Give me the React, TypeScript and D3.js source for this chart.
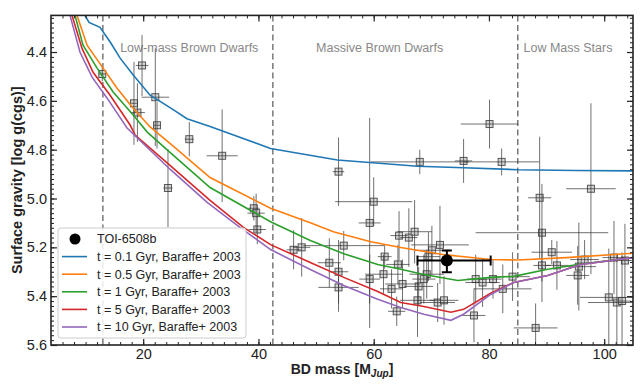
import * as React from "react";
import * as d3 from "d3";

// Baraffe+ 2003 isochrones, [mass (M_Jup), log g]
const iso01 = [[9.6, 4.22], [9.9, 4.25], [10.6, 4.279], [12.5, 4.299], [14.3, 4.36], [16.0, 4.425], [18.3, 4.495], [21.2, 4.577], [25.0, 4.633], [27.6, 4.673], [31.6, 4.705], [42.1, 4.795], [53.7, 4.842], [67.6, 4.868], [75.6, 4.874], [85.0, 4.882], [95.0, 4.885], [105, 4.887]];
const iso05 = [[8.3, 4.23], [8.52, 4.25], [10.26, 4.372], [13.04, 4.466], [15.47, 4.548], [18.26, 4.63], [21.2, 4.707], [24.7, 4.775], [31.6, 4.914], [42.1, 5.04], [49.0, 5.099], [53.0, 5.136], [59.5, 5.177], [64.7, 5.201], [72.2, 5.23], [80.3, 5.25], [85.0, 5.252], [93.5, 5.242], [105, 5.224]];
const iso1 = [[8.0, 4.23], [8.17, 4.25], [9.56, 4.372], [12.0, 4.466], [14.78, 4.564], [18.26, 4.658], [20.7, 4.728], [24.7, 4.812], [31.6, 4.955], [42.1, 5.095], [49.0, 5.172], [54.8, 5.226], [60.7, 5.27], [64.7, 5.29], [68.7, 5.311], [74.6, 5.336], [80.3, 5.323], [84.3, 5.319], [90.2, 5.29], [95.4, 5.27], [105, 5.242]];
const iso5 = [[7.4, 4.23], [7.65, 4.25], [9.39, 4.385], [11.3, 4.483], [14.26, 4.577], [17.73, 4.699], [18.6, 4.74], [24.7, 4.865], [31.6, 5.008], [37.4, 5.118], [42.1, 5.189], [49.0, 5.262], [54.8, 5.323], [60.7, 5.381], [64.7, 5.426], [68.7, 5.442], [73.4, 5.466], [75.6, 5.454], [80.3, 5.388], [84.3, 5.344], [90.2, 5.315], [95.9, 5.27], [105, 5.242]];
const iso10 = [[7.1, 4.23], [7.3, 4.25], [9.04, 4.401], [11.13, 4.503], [13.74, 4.589], [17.2, 4.711], [24.7, 4.881], [31.1, 5.016], [36.9, 5.12], [42.1, 5.209], [49.0, 5.291], [54.8, 5.356], [60.7, 5.413], [64.7, 5.446], [68.7, 5.474], [73.4, 5.499], [75.6, 5.474], [80.3, 5.393], [84.3, 5.344], [90.2, 5.315], [95.9, 5.27], [105, 5.242]];

const isoNames = ["t = 0.1 Gyr, Baraffe+ 2003", "t = 0.5 Gyr, Baraffe+ 2003", "t = 1 Gyr, Baraffe+ 2003", "t = 5 Gyr, Baraffe+ 2003", "t = 10 Gyr, Baraffe+ 2003"];
const isoColors = ["#1f77b4", "#ff7f0e", "#2ca02c", "#d62728", "#9467bd"];

// known brown dwarfs: mass, log g and their errors
const bdMass = [12.9, 19.8, 22.1, 18.4, 19.0, 22.4, 28.0, 24.3, 33.7, 53.9, 39.2, 39.6, 39.8, 46.1, 47.5, 52.3, 53.9, 53.9, 54.8, 60.0, 59.3, 59.3, 61.9, 61.7, 63.1, 64.0, 64.4, 64.2, 66.1, 67.1, 71.5, 70.1, 69.5, 69.2, 68.7, 67.8, 65.0, 67.6, 71.1, 72.2, 77.4, 77.7, 78.9, 80.7, 84.1, 82.4, 88.1, 88.8, 89.2, 90.9, 89.2, 91.8, 95.4, 95.6, 96.6, 97.7, 100.8, 102.2, 103.1, 103.6, 101.7, 75.6, 80.1, 82.2, 68.0];
const bdLogg = [4.49, 4.455, 4.585, 4.61, 4.648, 4.70, 4.757, 4.957, 4.825, 4.89, 5.04, 5.06, 5.127, 5.21, 5.20, 5.263, 5.30, 5.364, 5.193, 5.013, 5.10, 5.33, 5.238, 5.31, 5.37, 5.462, 5.152, 5.27, 5.16, 5.136, 5.19, 5.212, 5.238, 5.31, 5.33, 5.36, 5.35, 5.417, 5.426, 5.417, 5.479, 5.33, 5.344, 5.33, 5.32, 5.37, 5.53, 4.997, 5.14, 5.22, 5.274, 5.274, 5.315, 5.279, 5.25, 4.96, 5.405, 5.426, 5.42, 5.254, 5.242, 4.846, 4.695, 4.85, 4.85];
const bdMassErr = [0.6, 1.1, 2.4, 0.5, 1.3, 0.6, 0.8, 0.8, 2.7, 1.0, 1.0, 1.5, 1.5, 1.2, 1.5, 2.0, 1.7, 3.5, 7.0, 6.7, 1.9, 1.8, 1.2, 3.2, 2.0, 1.5, 1.5, 2.0, 1.5, 3.0, 5.0, 3.0, 2.0, 3.0, 2.0, 2.5, 3.0, 3.0, 3.0, 2.5, 2.0, 1.5, 3.0, 1.5, 3.0, 5.0, 3.8, 2.0, 11.5, 3.5, 1.5, 2.0, 2.0, 3.0, 2.5, 4.3, 5.0, 5.0, 1.5, 1.5, 2.0, 1.5, 5.0, 6.5, 8.5];
const bdLoggErr = [0.03, 0.125, 0.2, 0.17, 0.12, 0.095, 0.07, 0.16, 0.19, 0.14, 0.05, 0.08, 0.06, 0.08, 0.12, 0.1, 0.13, 0.1, 0.06, 0.1, 0.43, 0.1, 0.05, 0.08, 0.08, 0.06, 0.1, 0.08, 0.12, 0.13, 0.16, 0.1, 0.1, 0.1, 0.1, 0.08, 0.1, 0.15, 0.08, 0.1, 0.11, 0.1, 0.1, 0.08, 0.1, 0.1, 0.1, 0.25, 0.2, 0.05, 0.15, 0.1, 0.12, 0.18, 0.08, 0.35, 0.2, 0.2, 0.2, 0.15, 0.15, 0.09, 0.1, 0.055, 0.05];

// TOI-6508b
const toiMass = 72.7, toiMassLo = 5.1, toiMassHi = 7.6;
const toiLogg = 5.254, toiLoggLo = 0.041, toiLoggHi = 0.048;

const regionBounds = [13, 42.5, 85];
const regionLabels = ["Low-mass Brown Dwarfs", "Massive Brown Dwarfs", "Low Mass Stars"];
const regionLabelX = [16, 50, 86];

const xTicks = [20, 40, 60, 80, 100];
const yTicks = [4.4, 4.6, 4.8, 5.0, 5.2, 5.4, 5.6];

class App extends React.Component {
    _rootNode: any;

    componentDidMount() {
        document.body.style.margin = "0";
        this.drawChart();
    }

    drawChart() {
        const m = {left: 51, right: 633, top: 15.4, bottom: 345};
        const font = "'Liberation Sans', Arial, Helvetica, sans-serif";

        let x = d3.scaleLinear().domain([4, 105]).range([m.left, m.right]);
        let y = d3.scaleLinear().domain([4.25, 5.6]).range([m.top, m.bottom]);

        let svg = d3.select(this._rootNode)
            .append("svg")
            .attr("width", 640)
            .attr("height", 384)
            .style("display", "block")
            .style("font-family", font);

        svg.append("defs").append("clipPath").attr("id", "plotclip")
            .append("rect")
            .attr("x", m.left).attr("y", m.top)
            .attr("width", m.right - m.left).attr("height", m.bottom - m.top);

        let plot = svg.append("g").attr("clip-path", "url(#plotclip)");

        // region separators
        plot.selectAll("line.region")
            .data(regionBounds)
            .enter()
            .append("line")
            .attr("x1", d => x(d)).attr("x2", d => x(d))
            .attr("y1", m.top).attr("y2", m.bottom)
            .style("stroke", "#777")
            .style("stroke-width", 1.5)
            .style("stroke-dasharray", "6,3.5");

        plot.selectAll("text.region")
            .data(regionLabels)
            .enter()
            .append("text")
            .attr("x", (d, i) => x(regionLabelX[i]))
            .attr("y", 52)
            .style("font-size", "12.5px")
            .style("fill", "#888")
            .text(d => d);

        // data points
        let pts = bdMass.map((d, i) => ({m: d, g: bdLogg[i], me: bdMassErr[i], ge: bdLoggErr[i]}));
        let sq = 7;
        plot.selectAll("rect.bd")
            .data(pts)
            .enter()
            .append("rect")
            .attr("x", d => x(d.m) - sq / 2)
            .attr("y", d => y(d.g) - sq / 2)
            .attr("width", sq).attr("height", sq)
            .style("fill", "#c8c8c8")
            .style("fill-opacity", 0.75)
            .style("stroke", "#333")
            .style("stroke-opacity", 0.8)
            .style("stroke-width", 1);

        let bars = plot.append("g").style("stroke", "#333").style("stroke-width", 1).style("stroke-opacity", 0.7);
        bars.selectAll("line.xe")
            .data(pts)
            .enter()
            .append("line")
            .attr("x1", d => x(d.m - d.me)).attr("x2", d => x(d.m + d.me))
            .attr("y1", d => y(d.g)).attr("y2", d => y(d.g));
        bars.selectAll("line.ye")
            .data(pts)
            .enter()
            .append("line")
            .attr("x1", d => x(d.m)).attr("x2", d => x(d.m))
            .attr("y1", d => y(d.g - d.ge)).attr("y2", d => y(d.g + d.ge));

        // isochrones
        let line = d3.line<number[]>().x(d => x(d[0])).y(d => y(d[1]));
        plot.selectAll("path.iso")
            .data([iso01, iso05, iso1, iso5, iso10])
            .enter()
            .append("path")
            .attr("d", d => line(d))
            .style("fill", "none")
            .style("stroke", (d, i) => isoColors[i])
            .style("stroke-width", 1.6);

        // TOI-6508b
        let toi = plot.append("g").style("stroke", "#000").style("stroke-width", 2);
        toi.append("line")
            .attr("x1", x(toiMass - toiMassLo)).attr("x2", x(toiMass + toiMassHi))
            .attr("y1", y(toiLogg)).attr("y2", y(toiLogg));
        toi.append("line")
            .attr("x1", x(toiMass)).attr("x2", x(toiMass))
            .attr("y1", y(toiLogg - toiLoggLo)).attr("y2", y(toiLogg + toiLoggHi));
        [toiMass - toiMassLo, toiMass + toiMassHi].forEach(v => {
            toi.append("line").attr("x1", x(v)).attr("x2", x(v))
                .attr("y1", y(toiLogg) - 5).attr("y2", y(toiLogg) + 5);
        });
        [toiLogg - toiLoggLo, toiLogg + toiLoggHi].forEach(v => {
            toi.append("line").attr("x1", x(toiMass) - 5).attr("x2", x(toiMass) + 5)
                .attr("y1", y(v)).attr("y2", y(v));
        });
        plot.append("circle")
            .attr("cx", x(toiMass)).attr("cy", y(toiLogg))
            .attr("r", 6)
            .style("fill", "#000");

        // axes with inward ticks on all four sides
        const minorX = d3.range(6, 105, 2);
        const minorY = d3.range(4.26, 5.6, 0.02);
        const makeAxis = (k: number) => k === 0 ? d3.axisBottom(x) : k === 1 ? d3.axisTop(x) : k === 2 ? d3.axisLeft(y) : d3.axisRight(y);
        const shifts = ["translate(0," + m.bottom + ")", "translate(0," + m.top + ")",
            "translate(" + m.left + ",0)", "translate(" + m.right + ",0)"];
        shifts.forEach((tr, k) => {
            let isX = k < 2;
            svg.append("g").attr("transform", tr)
                .call(makeAxis(k).tickValues(isX ? minorX : minorY).tickSize(-3).tickFormat(() => ""))
                .call(g => g.select(".domain").remove())
                .call(g => g.selectAll("line").style("stroke", "#222").style("stroke-width", 1));
            svg.append("g").attr("transform", tr)
                .call(makeAxis(k)
                    .tickValues(isX ? xTicks : yTicks)
                    .tickSize(-6)
                    .tickPadding(isX ? 4 : 4)
                    .tickFormat((d: any) => (k === 0 ? String(d) : k === 2 ? d3.format(".1f")(d) : "")))
                .call(g => g.select(".domain").remove())
                .call(g => g.selectAll("line").style("stroke", "#222").style("stroke-width", 1.2))
                .call(g => g.selectAll("text").style("font-size", "14.5px").style("fill", "#222").style("font-family", font));
        });

        svg.append("rect")
            .attr("x", m.left).attr("y", m.top)
            .attr("width", m.right - m.left).attr("height", m.bottom - m.top)
            .style("fill", "none")
            .style("stroke", "#222")
            .style("stroke-width", 1.6);

        // legend
        let legend = svg.append("g").attr("transform", "translate(58,228)");
        legend.append("rect")
            .attr("width", 188).attr("height", 110)
            .attr("rx", 3)
            .style("fill", "#fff")
            .style("fill-opacity", 0.85)
            .style("stroke", "#ccc")
            .style("stroke-width", 1);
        legend.append("circle").attr("cx", 17).attr("cy", 11).attr("r", 5.5).style("fill", "#000");
        legend.append("text").attr("x", 39).attr("y", 11).attr("dy", "0.35em")
            .style("font-size", "12.5px").style("fill", "#222").text("TOI-6508b");
        legend.selectAll("line.leg")
            .data(isoNames)
            .enter()
            .append("line")
            .attr("x1", 4).attr("x2", 29)
            .attr("y1", (d, i) => 28.6 + i * 17.6).attr("y2", (d, i) => 28.6 + i * 17.6)
            .style("stroke", (d, i) => isoColors[i])
            .style("stroke-width", 1.6);
        legend.selectAll("text.leg")
            .data(isoNames)
            .enter()
            .append("text")
            .attr("x", 39)
            .attr("y", (d, i) => 28.6 + i * 17.6)
            .attr("dy", "0.35em")
            .style("font-size", "12.5px")
            .style("fill", "#222")
            .text(d => d);

        // axis labels
        let xl = svg.append("text")
            .attr("x", (m.left + m.right) / 2)
            .attr("y", 374)
            .attr("text-anchor", "middle")
            .style("font-size", "14px")
            .style("font-weight", "bold")
            .style("fill", "#222");
        xl.append("tspan").text("BD mass [M");
        xl.append("tspan").attr("dy", 3).style("font-size", "10px").style("font-style", "italic").text("Jup");
        xl.append("tspan").attr("dy", -3).text("]");

        svg.append("text")
            .attr("transform", "translate(22," + (m.top + m.bottom) / 2 + ") rotate(-90)")
            .attr("text-anchor", "middle")
            .style("font-size", "14.5px")
            .style("font-weight", "bold")
            .style("fill", "#222")
            .text("Surface gravity [log g(cgs)]");
    }

    shouldComponentUpdate() {
        return false;
    }

    _setRef(componentNode) {
        this._rootNode = componentNode;
    }

    render() {
        return <div ref={this._setRef.bind(this)}/>;
    }
}

export default App;
